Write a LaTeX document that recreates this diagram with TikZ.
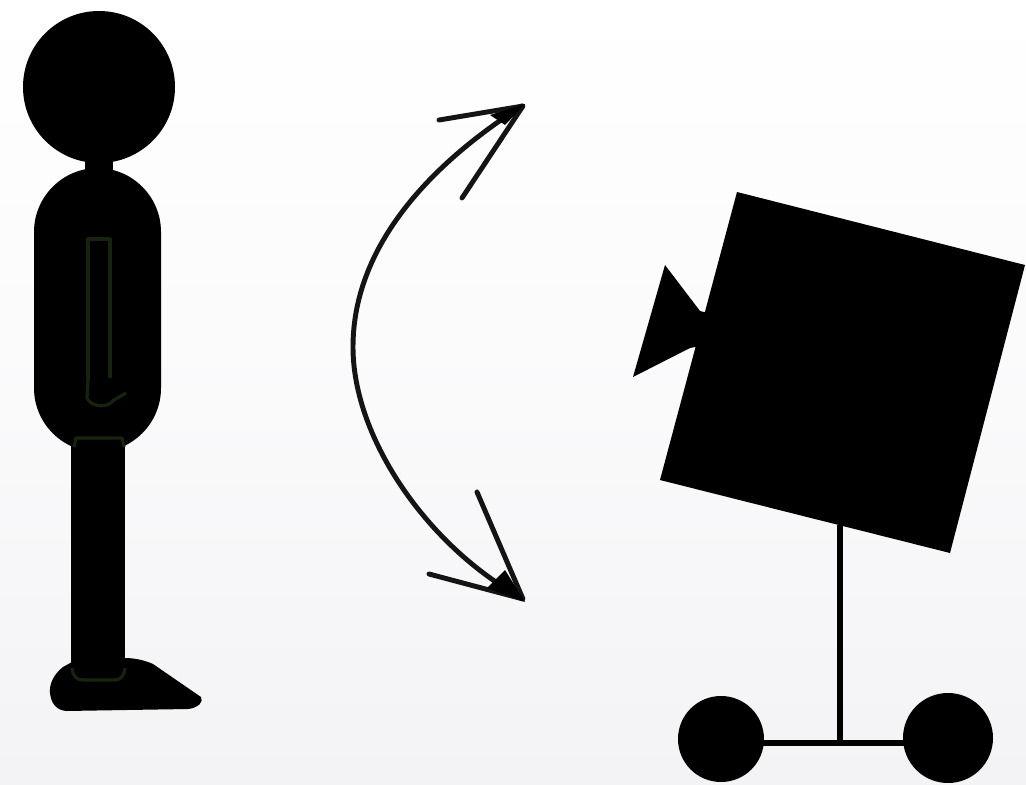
\documentclass[tikz,border=0pt]{standalone}
\definecolor{bgtop}{HTML}{FFFFFF}
\definecolor{bgbot}{HTML}{F3F3F6}
\definecolor{seam}{HTML}{16240F}
\tikzset{
  solidpart/.style={fill=black,draw=none},
  seamline/.style={draw=seam,line width=2.4pt,line join=round},
  swing/.style={draw=black!92,line width=3.7pt,line cap=round,line join=round},
  standbar/.style={draw=black,line width=4.2pt}
}
\begin{document}
\begin{tikzpicture}[x=0.75pt,y=-0.75pt]
\useasboundingbox (0,0) rectangle (1026,785);
\shade[top color=bgtop,bottom color=bgbot,middle color=bgtop!60!bgbot] (0,0) rectangle (1026,785);
% person
\fill[solidpart] (99,87) circle (76);
\fill[solidpart] (85,150) rectangle (113,180);
\fill[solidpart,rounded corners=48] (34,168) rectangle (161,452);
\fill[solidpart] (71,435) rectangle (125,680);
\fill[solidpart] (72,662) -- (63,667) .. controls (54,674) and (49,684) .. (50,693)
  .. controls (51,703) and (56,710) .. (66,711) -- (188,709)
  .. controls (198,708) and (204,702) .. (201,697)
  -- (153,664) .. controls (144,660) and (134,658) .. (125,658) -- cycle;
\draw[seamline] (88,380) -- (88,239) -- (110,239) -- (110,378);
\draw[seamline] (88,380) -- (87,398) .. controls (92,408) and (108,408) .. (114,400) -- (126,393);
\draw[seamline] (74,447) -- (76,438) -- (122,438) -- (124,447);
\draw[seamline] (72,668) .. controls (73,677) and (77,680) .. (83,680) -- (114,680) .. controls (120,680) and (124,677) .. (125,668);
% double arrow
\draw[swing] (522,106) .. controls (440,158) and (353,240) .. (353,347)
  .. controls (353,440) and (430,548) .. (522,598);
\draw[swing] (439,120) -- (523,106) -- (462,198);
\draw[swing] (477,492) -- (523,599) -- (429,574);
\fill[black] (525,104) -- (490,115) -- (505,125) -- cycle;
\fill[black] (525,602) -- (487,588) -- (505,570) -- cycle;
% camera on stand
\draw[standbar] (840,525) -- (840,745);
\draw[standbar] (721,743) -- (948,743);
\fill[solidpart] (721,739) circle (43);
\fill[solidpart] (948,738) circle (45);
\fill[solidpart] (737,192) -- (1025,265) -- (950,553) -- (660,480) -- cycle;
\fill[solidpart] (665,265) -- (700,311) -- (708,313) -- (705,345) -- (690,348) -- (633,377) -- cycle;
\end{tikzpicture}
\end{document}
